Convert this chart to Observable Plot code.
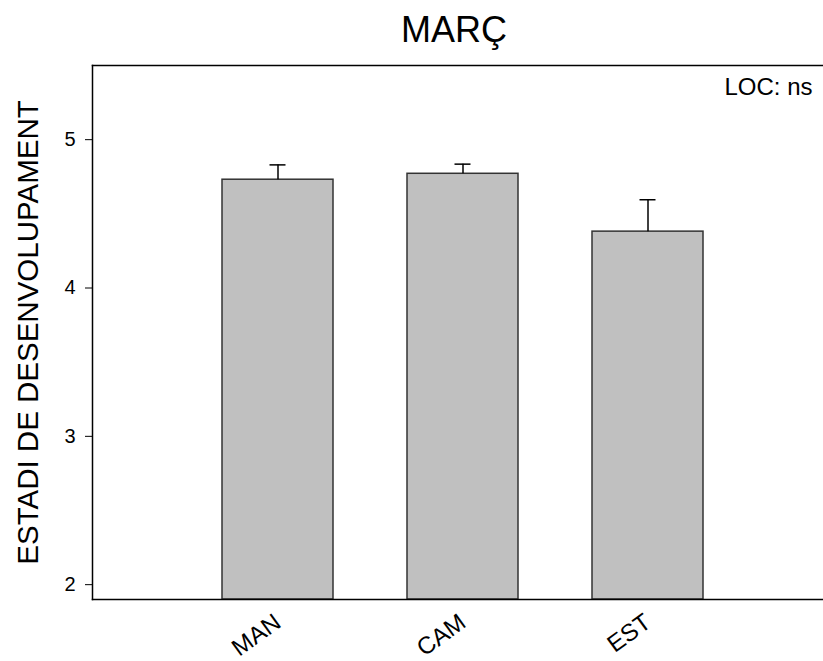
<!DOCTYPE html>
<html><head><meta charset="utf-8">
<script src="https://cdn.jsdelivr.net/npm/d3@7"></script>
<script src="https://cdn.jsdelivr.net/npm/@observablehq/plot@0.6"></script>
<style>
body{margin:0;background:#fff}
g[aria-label="y-axis tick label"] text{font-size:20px}
g[aria-label="x-axis tick label"] text{font-size:24px}
</style>
</head><body><div id="chart"></div>
<script>
const title = "MARÇ";
const yLabel = "ESTADI DE DESENVOLUPAMENT";
const note = "LOC: ns";
const categories = ["MAN", "CAM", "EST"];
const means = [4.73, 4.77, 4.38];
const errors = [0.10, 0.065, 0.215];
const yTicks = [2, 3, 4, 5];

const data = categories.map((c, i) => ({cat: c, mean: means[i], hi: means[i] + errors[i]}));

const chart = Plot.plot({
  width: 823, height: 661,
  marginLeft: 92, marginRight: 0, marginTop: 65, marginBottom: 62,
  style: {fontFamily: "'Liberation Sans', Arial, sans-serif", color: "black", background: "white"},
  x: {type: "band", domain: categories, range: [184.25, 740.75], paddingInner: 0.4, paddingOuter: 0.2, label: null},
  y: {domain: [1.9, 5.5], label: null},
  marks: [
    Plot.barY(data, {x: "cat", y1: 1.9, y2: "mean", fill: "#c0c0c0", stroke: "#333", strokeWidth: 1.5}),
    Plot.ruleX(data, {x: "cat", y1: "mean", y2: "hi", stroke: "black", strokeWidth: 1.5}),
    Plot.tickY(data, {x: "cat", y: "hi", stroke: "black", strokeWidth: 1.5, inset: 47.5}),
    Plot.axisY({ticks: yTicks, tickSize: 7, tickPadding: 10, fontSize: 20, tickFormat: d => String(d), label: null}),
    Plot.axisX({tickSize: 0, tickRotate: -36, fontSize: 24, tickPadding: 20, label: null}),
    Plot.frame({anchor: "top", strokeWidth: 1.5}),
    Plot.frame({anchor: "bottom", strokeWidth: 1.5}),
    Plot.frame({anchor: "left", strokeWidth: 1.5}),
    Plot.text([title], {frameAnchor: "top", dx: -4, dy: -35, fontSize: 36, lineAnchor: "middle"}),
    Plot.text([note], {frameAnchor: "top-right", textAnchor: "end", lineAnchor: "middle", dx: -11, dy: 22, fontSize: 24}),
    Plot.text([yLabel], {frameAnchor: "left", textAnchor: "middle", rotate: -90, dx: -64, fontSize: 29.5, lineAnchor: "middle"})
  ]
});
document.getElementById("chart").appendChild(chart);
</script>
</body></html>
